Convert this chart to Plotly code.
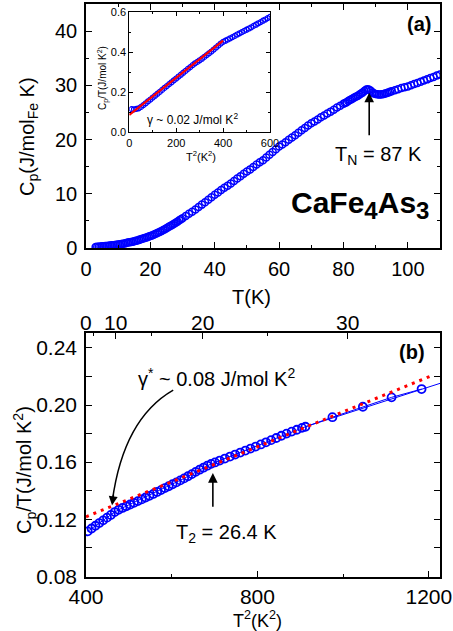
import plotly.graph_objects as go

# ---------------- data: panel (a) Cp vs T ----------------
T_a = [3.0, 3.5, 4.0, 4.5, 5.0, 5.5, 6.0, 6.5, 7.0, 7.5, 8.0, 8.5, 9.0, 9.5, 10.0, 10.5,
       11.0, 11.5, 12.0, 12.5, 13.0, 13.5, 14.0, 14.5, 15.0, 15.5, 16.0, 16.5, 17.0, 17.5,
       18.0, 18.5, 19.0, 19.5, 20.0, 20.5, 21.0, 21.5, 22.0, 22.5, 23.0, 23.5, 24.0, 24.5,
       25.0, 25.5, 26.0, 26.5, 27.0, 27.5, 28.0, 28.5, 29.0, 29.5, 30.0,
       31, 32, 33, 34, 35, 36, 37, 38, 39, 40, 41, 42, 43, 44, 45, 46, 47, 48, 49, 50,
       51, 52, 53, 54, 55, 56, 57, 58, 59, 60, 61, 62, 63, 64, 65, 66, 67, 68, 69, 70,
       71, 72, 73, 74, 75, 76, 77, 78, 79, 80,
       80.5, 81.0, 81.5, 82.0, 82.5, 83.0, 83.5, 84.0, 84.5, 85.0, 85.5, 86.0, 86.5, 87.0,
       87.5, 88.0, 88.5, 89.0, 89.5, 90.0, 90.5, 91.0, 91.5, 92.0, 92.5, 93.0, 93.5, 94.0,
       94.5, 95.0,
       96, 97, 98, 99, 100, 101, 102, 103, 104, 105, 106, 107, 108, 109, 110]
Cp_a = [0.20, 0.22, 0.25, 0.27, 0.30, 0.32, 0.35, 0.37, 0.40, 0.45, 0.50, 0.52, 0.55, 0.60,
        0.65, 0.70, 0.75, 0.80, 0.85, 0.92, 1.00, 1.05, 1.10, 1.17, 1.25, 1.32, 1.40, 1.50,
        1.60, 1.70, 1.80, 1.90, 2.00, 2.10, 2.20, 2.32, 2.45, 2.57, 2.70, 2.85, 3.00, 3.15,
        3.30, 3.47, 3.65, 3.82, 4.00, 4.17, 4.35, 4.52, 4.70, 4.90, 5.10, 5.30, 5.50,
        5.9, 6.3, 6.7, 7.1, 7.55, 8.0, 8.45, 8.9, 9.35, 9.8, 10.25, 10.7, 11.1, 11.5, 11.9,
        12.35, 12.8, 13.25, 13.7, 14.1, 14.5, 14.95, 15.4, 15.8, 16.2, 16.7, 17.2, 17.7,
        18.2, 18.7, 19.1, 19.5, 19.95, 20.4, 20.8, 21.25, 21.7, 22.15, 22.6, 23.0,
        23.35, 23.7, 24.1, 24.45, 24.8, 25.15, 25.5, 25.9, 26.25, 26.6,
        26.75, 26.9, 27.1, 27.3, 27.45, 27.6, 27.8, 27.95, 28.1, 28.3, 28.5, 28.7, 28.95,
        29.2, 29.3, 29.2, 29.0, 28.7, 28.5, 28.4, 28.35, 28.3, 28.3, 28.35, 28.4, 28.5,
        28.6, 28.7, 28.8, 28.9,
        29.1, 29.3, 29.5, 29.65, 29.8, 30.0, 30.25, 30.45, 30.65, 30.9, 31.1, 31.35, 31.55,
        31.8, 32.0]

# ---------------- data: inset Cp/T vs T^2 ----------------
T2_in = [10, 20, 30, 40, 50, 60, 70, 80, 90, 100, 110, 120, 130, 140, 150, 160, 170, 180,
         190, 200, 210, 220, 230, 240, 250, 260, 270, 280, 290, 300, 310, 320, 330, 340,
         350, 360, 370, 380, 390, 400, 410, 420, 430, 440, 450, 460, 470, 480, 490, 500,
         510, 520, 530, 540, 550, 560, 570, 580, 590, 600]
CpT_in = [0.116, 0.115, 0.117, 0.120, 0.127, 0.136, 0.145, 0.155, 0.164, 0.174, 0.183,
          0.193, 0.202, 0.212, 0.222, 0.231, 0.241, 0.250, 0.260, 0.269, 0.279, 0.288,
          0.298, 0.307, 0.317, 0.326, 0.336, 0.345, 0.352, 0.360, 0.368, 0.377, 0.386,
          0.395, 0.404, 0.414, 0.424, 0.434, 0.444, 0.452, 0.458, 0.464, 0.470, 0.476,
          0.482, 0.489, 0.495, 0.501, 0.507, 0.513, 0.519, 0.525, 0.532, 0.538, 0.545,
          0.551, 0.558, 0.564, 0.571, 0.577]
fit_in_x = [0, 400]
fit_in_y = [0.0865, 0.458]

# ---------------- data: panel (b) Cp/T vs T^2 ----------------
T2_b = [404, 413, 422, 431, 440, 449, 458, 467, 476, 485, 494, 503, 512, 521, 530, 539,
        548, 557, 566, 575, 584, 593, 602, 611, 620, 629, 638, 647, 656, 665, 674, 683,
        692, 701, 712, 724, 736, 748, 760, 772, 784, 796, 808, 820, 832, 844, 856, 868,
        880, 892, 904, 912, 975, 1046, 1113, 1183]
CpT_b = [0.1115, 0.1135, 0.1154, 0.1173, 0.1192, 0.1211, 0.1230, 0.1250, 0.1266, 0.1279,
         0.1291, 0.1303, 0.1315, 0.1327, 0.1339, 0.1352, 0.1364, 0.1377, 0.1391, 0.1404,
         0.1418, 0.1431, 0.1445, 0.1458, 0.1472, 0.1486, 0.1501, 0.1516, 0.1532, 0.1547,
         0.1561, 0.1575, 0.1588, 0.1598, 0.1611, 0.1625, 0.1639, 0.1653, 0.1667, 0.1681,
         0.1695, 0.1709, 0.1724, 0.1739, 0.1754, 0.1769, 0.1785, 0.1800, 0.1814, 0.1827,
         0.1840, 0.1848, 0.1915, 0.1988, 0.2054, 0.2112]
guide_b_x = [912, 1226]
guide_b_y = [0.1848, 0.2152]
fit_b_x = [400, 1210]
fit_b_y = [0.1217, 0.2210]

# top-axis (T) labels placed at T^2
top_tick_T2 = [0, 100, 400, 900]
top_tick_text = ["0", "10", "20", "30"]
top_minor_T2 = [25, 225, 625]

BLUE = "#0000FF"
RED = "#FF0000"
FONT = "Arial, Liberation Sans, sans-serif"

fig = go.Figure()

fig.add_trace(go.Scatter(x=T_a, y=Cp_a, mode="markers", xaxis="x", yaxis="y",
                         marker=dict(symbol="circle-open", size=7, color=BLUE,
                                     line=dict(width=1.5, color=BLUE))))

fig.add_trace(go.Scatter(x=T2_in, y=CpT_in, mode="markers", xaxis="x2", yaxis="y2",
                         marker=dict(symbol="circle-open", size=5, color=BLUE,
                                     line=dict(width=1.2, color=BLUE))))
fig.add_trace(go.Scatter(x=fit_in_x, y=fit_in_y, mode="lines", xaxis="x2", yaxis="y2",
                         line=dict(color=RED, width=2.2)))

fig.add_trace(go.Scatter(x=guide_b_x, y=guide_b_y, mode="lines", xaxis="x3", yaxis="y3",
                         line=dict(color=BLUE, width=1)))
fig.add_trace(go.Scatter(x=T2_b, y=CpT_b, mode="lines+markers", xaxis="x3", yaxis="y3",
                         line=dict(color=BLUE, width=1),
                         marker=dict(symbol="circle-open", size=8, color=BLUE,
                                     line=dict(width=1.8, color=BLUE))))
fig.add_trace(go.Scatter(x=fit_b_x, y=fit_b_y, mode="lines", xaxis="x3", yaxis="y3",
                         line=dict(color=RED, width=3, dash="3px,5px")))
# invisible trace for the top axis
fig.add_trace(go.Scatter(x=[0], y=[0.1], mode="markers", xaxis="x4", yaxis="y3",
                         marker=dict(opacity=0), hoverinfo="skip"))

W, H = 453, 631
def px(v):
    return v / W
def py(v):
    return 1 - v / H

common = dict(showline=True, linecolor="black", linewidth=1.5, ticks="inside",
              tickcolor="black", tickwidth=1.3, showgrid=False, zeroline=False,
              automargin=False,
              tickfont=dict(family=FONT, size=20, color="black"))
font21 = dict(family=FONT, size=21, color="black")
font11 = dict(family=FONT, size=11, color="black")

fig.update_layout(
    template="none",
    width=W, height=H, margin=dict(l=0, r=0, t=0, b=0, pad=0),
    paper_bgcolor="white", plot_bgcolor="white", showlegend=False,
    xaxis=dict(domain=[px(86), px(440)], anchor="y", range=[0, 110], tickvals=[0, 20, 40, 60, 80, 100],
               ticklen=6, mirror="allticks", ticklabelstandoff=2,
               minor=dict(dtick=10, tick0=0, ticklen=3, ticks="inside", tickcolor="black"),
               **common),
    yaxis=dict(domain=[py(248), py(4)], anchor="x", range=[0, 45], tickvals=[0, 10, 20, 30, 40],
               ticklen=6, mirror="allticks", ticklabelstandoff=3,
               minor=dict(dtick=5, tick0=0, ticklen=3, ticks="inside", tickcolor="black"),
               **common),
    xaxis3=dict(domain=[px(86), px(440)], anchor="y3", range=[400, 1226],
                tickvals=[400, 800, 1200], ticklen=6, mirror=True, ticklabelstandoff=0,
                minor=dict(tickvals=[600, 1000], ticklen=3, ticks="inside", tickcolor="black"),
                **{**common, "tickfont": font21}),
    yaxis3=dict(domain=[py(577), py(333)], anchor="x3", range=[0.0795, 0.2505],
                tickvals=[0.08, 0.12, 0.16, 0.20, 0.24], tickformat=".2f", ticklen=6,
                mirror="allticks", ticklabelstandoff=3,
                minor=dict(tickvals=[0.10, 0.14, 0.18, 0.22], ticklen=3, ticks="inside",
                           tickcolor="black"),
                **{**common, "tickfont": font21}),
    xaxis4=dict(overlaying="x3", anchor="y3", side="top", range=[0, 1217],
                tickvals=top_tick_T2, showticklabels=False, ticklen=6,
                minor=dict(tickvals=top_minor_T2, ticklen=3, ticks="inside", tickcolor="black"),
                **{**common, "tickfont": font21}),
    xaxis2=dict(domain=[px(129.3), px(270)], anchor="y2", range=[0, 600],
                tickvals=[0, 200, 400, 600], ticklen=4, mirror="allticks",
                minor=dict(tickvals=[100, 300, 500], ticklen=2, ticks="inside", tickcolor="black"),
                **{**common, "linewidth": 1, "tickwidth": 1, "tickfont": font11}),
    yaxis2=dict(domain=[py(132.3), py(12.3)], anchor="x2", range=[0, 0.6],
                tickvals=[0, 0.2, 0.4, 0.6], tickformat=".1f", ticklen=4, mirror="allticks",
                minor=dict(tickvals=[0.1, 0.3, 0.5], ticklen=2, ticks="inside", tickcolor="black"),
                **{**common, "linewidth": 1, "tickwidth": 1, "tickfont": font11}),
)

# top-axis tick labels (T scale) drawn at their T^2 positions
for tv, tt in zip(top_tick_T2, top_tick_text):
    fig.add_annotation(text=tt, x=tv, xref="x4", y=py(322), yref="paper", showarrow=False,
                       xanchor="center", yanchor="middle", font=font21)

def txt(text, x, y, size, bold=False, angle=0, xanchor="center", yanchor="middle"):
    if bold:
        text = "<b>" + text + "</b>"
    fig.add_annotation(text=text, x=px(x), y=py(y), xref="paper", yref="paper",
                       showarrow=False, textangle=angle, xanchor=xanchor, yanchor=yanchor,
                       font=dict(family=FONT, size=size, color="black"))

# panel (a) texts
txt("C<sub>p</sub>(J/mol<sub>Fe</sub> K)", 28, 137, 20, angle=-90)
txt("T(K)", 252, 297, 20)
txt("(a)", 419, 24, 20, bold=True)
txt("T<sub>N</sub> = 87 K", 378, 155, 20)
txt("CaFe<sub><span style='font-size:24px'>4</span></sub>As<sub><span style='font-size:24px'>3</span></sub>",
    360, 205, 30, bold=True)
# inset texts
txt("C<sub>p</sub>/T(J/mol K<sup>2</sup>)", 103, 78, 10, angle=-90)
txt("T<sup>2</sup>(K<sup>2</sup>)", 201, 156, 11)
txt("γ ~ 0.02 J/mol K<sup>2</sup>", 192, 119, 12)
# panel (b) texts
txt("C<sub>p</sub>/T(J/mol K<sup>2</sup>)", 24, 470, 20, angle=-90)
txt("T<sup>2</sup>(K<sup>2</sup>)", 257, 619, 18)
txt("(b)", 412, 352, 20, bold=True)
txt("γ<sup>*</sup> ~ 0.08 J/mol K<sup>2</sup>", 216, 377, 20)
txt("T<sub>2</sub> = 26.4 K", 226, 533, 20)

# T_N arrow (panel a)
fig.add_annotation(x=88, y=29.0, ax=88, ay=20.5, xref="x", yref="y", axref="x", ayref="y",
                   text="", showarrow=True, arrowhead=2, arrowsize=1.2, arrowwidth=1.6,
                   arrowcolor="black", standoff=2)
# T2 arrow (panel b)
fig.add_annotation(x=696, y=0.1523, ax=696, ay=0.1277, xref="x3", yref="y3", axref="x3",
                   ayref="y3", text="", showarrow=True, arrowhead=2, arrowsize=1.2,
                   arrowwidth=1.6, arrowcolor="black")
# curved arrow for gamma*
fig.add_shape(type="path", xref="x3", yref="y3",
              path="M 603.5,0.2105 Q 487.7,0.1905 461.5,0.1330",
              line=dict(color="black", width=1.5))
fig.add_annotation(x=460.8, y=0.1298, ax=1.6, ay=-12, xref="x3", yref="y3",
                   text="", showarrow=True, arrowhead=2, arrowsize=1.2, arrowwidth=1.5,
                   arrowcolor="black")

fig.write_html("out.html")
